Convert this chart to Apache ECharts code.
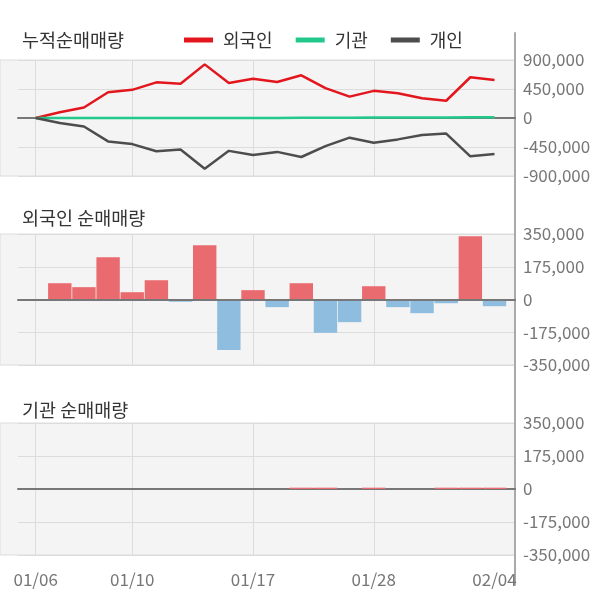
<!DOCTYPE html>
<html><head><meta charset="utf-8">
<script src="https://cdn.jsdelivr.net/npm/echarts@6/dist/echarts.min.js"></script>
<style>html,body{margin:0;padding:0;background:#fff}#c{width:600px;height:604px}</style>
</head><body><div id="c"></div>
<script>
const dates = ['01/06','01/07','01/08','01/09','01/10','01/13','01/14','01/15','01/16','01/17','01/20','01/21','01/22','01/23','01/28','01/29','01/30','01/31','02/03','02/04'];
const labelIdx = [0,4,9,14,19];
const vGridIdx = [0,4,9,14];
const foreignCum = [0,90000,163000,400000,437000,553000,532000,832000,542000,610000,558000,663000,463000,332000,421000,384000,305000,268000,632000,589000];
const instCum = [0,0,0,0,0,0,0,0,0,0,0,2000,4000,4000,6000,6000,6000,8000,10000,12000];
const indivCum = [0,-79000,-132000,-363000,-405000,-516000,-489000,-789000,-510000,-574000,-526000,-605000,-437000,-305000,-384000,-332000,-263000,-242000,-595000,-558000];
const foreignNet = [0,87000,66000,226000,39000,103000,-12000,290000,-270000,50000,-41000,87000,-178000,-121000,71000,-41000,-73000,-20000,338000,-36000];
const instNet = [0,0,0,0,0,0,0,0,0,0,0,7000,7000,0,7000,0,0,7000,7000,7000];
const cumTicks = {min:-900000,max:900000,interval:450000};
const netTicks = {min:-350000,max:350000,interval:175000};

const FONT = '"Noto Sans CJK KR","Noto Sans",sans-serif';
const fmt = v => String(v).replace(/\B(?=(\d{3})+(?!\d))/g, ',');
const panels = [
  {top:60, height:116, ticks:cumTicks, zeroZ:0},
  {top:234, height:131, ticks:netTicks, zeroZ:3},
  {top:423, height:132, ticks:netTicks, zeroZ:0}
];
const grids=[], xAxes=[], yAxes=[];
panels.forEach((p,i)=>{
  // background grid
  grids.push({left:0,right:85,top:p.top,height:p.height,show:true,backgroundColor:'#f4f4f4',borderColor:'#dcdcdc',borderWidth:1,z:-1});
  xAxes.push({gridIndex:grids.length-1,type:'value',show:false,min:0,max:1});
  yAxes.push({gridIndex:grids.length-1,type:'value',show:false,min:p.ticks.min,max:p.ticks.max});
  // main grid: y labels, horizontal gridlines, zero line
  grids.push({left:18,right:85,top:p.top,height:p.height});
  xAxes.push({gridIndex:grids.length-1,type:'value',min:0,max:1,z:p.zeroZ,
    axisLine:{show:true,onZero:true,lineStyle:{color:'#777',width:2}},
    axisTick:{show:false},axisLabel:{show:false},splitLine:{show:false}});
  yAxes.push({gridIndex:grids.length-1,type:'value',position:'right',min:p.ticks.min,max:p.ticks.max,interval:p.ticks.interval,
    axisLine:{show:false,onZero:false},axisTick:{show:false},
    axisLabel:{margin:8,color:'#777',fontSize:17,fontFamily:FONT,formatter:fmt},
    splitLine:{lineStyle:{color:'#dcdcdc',width:1}}});
  // data grid
  grids.push({left:35.65,right:105.5,top:p.top,height:p.height});
  xAxes.push({gridIndex:grids.length-1,type:'category',data:dates,boundaryGap:false,
    axisLine:{show:false},axisTick:{show:false},
    axisLabel:{show:i===2,interval:(idx)=>labelIdx.includes(idx),margin:16,color:'#777',fontSize:17,fontFamily:FONT},
    splitLine:{show:true,interval:(idx)=>vGridIdx.includes(idx),lineStyle:{color:'#dcdcdc',width:1}}});
  yAxes.push({gridIndex:grids.length-1,type:'value',show:false,min:p.ticks.min,max:p.ticks.max});
});
// right axis line spanning all panels
grids.push({left:0,right:85,top:33,bottom:19});
xAxes.push({gridIndex:grids.length-1,type:'value',show:false,min:0,max:1});
yAxes.push({gridIndex:grids.length-1,type:'value',position:'right',min:0,max:1,
  axisLine:{show:true,onZero:false,lineStyle:{color:'#aaa',width:2}},axisTick:{show:false},axisLabel:{show:false},splitLine:{show:false}});

const barColor = p => p.value >= 0 ? '#ea6b6f' : '#8fbde0';
const titleStyle = {fontSize:18.5,fontWeight:'normal',color:'#333',fontFamily:FONT};
const option = {
  animation:false,
  textStyle:{fontFamily:FONT},
  title:[
    {text:'누적순매매량',left:22,top:30.5,padding:0,textStyle:titleStyle},
    {text:'외국인 순매매량',left:22,top:208.5,padding:0,textStyle:titleStyle},
    {text:'기관 순매매량',left:22,top:400.5,padding:0,textStyle:titleStyle}
  ],
  legend:{data:['외국인','기관','개인'],icon:'rect',itemWidth:29,itemHeight:5,left:184,top:29,itemGap:23,padding:0,
    textStyle:{fontSize:18,color:'#333',fontFamily:FONT,padding:[0,0,0,5],lineHeight:22}},
  grid:grids, xAxis:xAxes, yAxis:yAxes,
  series:[
    {name:'외국인',type:'line',xAxisIndex:2,yAxisIndex:2,data:foreignCum,showSymbol:false,color:'#e3161e',lineStyle:{width:2.5,color:'#e3161e'}},
    {name:'기관',type:'line',xAxisIndex:2,yAxisIndex:2,data:instCum,showSymbol:false,color:'#22c98b',lineStyle:{width:2.5,color:'#22c98b'}},
    {name:'개인',type:'line',xAxisIndex:2,yAxisIndex:2,data:indivCum,showSymbol:false,color:'#4d4d4d',lineStyle:{width:2.5,color:'#4d4d4d'}},
    {name:'외국인 순매매',type:'bar',xAxisIndex:5,yAxisIndex:5,data:foreignNet,barWidth:23.4,clip:false,itemStyle:{color:barColor}},
    {name:'기관 순매매',type:'bar',xAxisIndex:8,yAxisIndex:8,data:instNet,barWidth:23.4,clip:false,itemStyle:{color:barColor}}
  ]
};
echarts.init(document.getElementById('c'),null,{renderer:'canvas'}).setOption(option);
</script></body></html>
